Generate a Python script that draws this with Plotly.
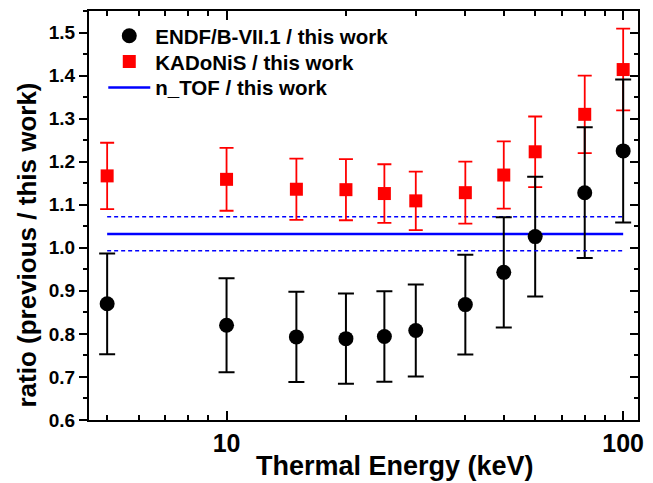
import plotly.graph_objects as go

# ---- data ----
energy_keV = [5, 10, 15, 20, 25, 30, 40, 50, 60, 80, 100]
endf_ratio = [0.870, 0.820, 0.793, 0.789, 0.794, 0.808, 0.868, 0.943, 1.026, 1.128, 1.225]
endf_err = [0.117, 0.109, 0.105, 0.105, 0.105, 0.107, 0.116, 0.128, 0.139, 0.152, 0.166]
kadonis_ratio = [1.167, 1.159, 1.136, 1.135, 1.126, 1.109, 1.128, 1.169, 1.223, 1.310, 1.414]
kadonis_err = [0.077, 0.073, 0.071, 0.071, 0.068, 0.068, 0.072, 0.078, 0.082, 0.090, 0.095]
ntof_x = [5, 100]
ntof_ratio = [1.032, 1.032]
ntof_upper = [1.072, 1.072]
ntof_lower = [0.993, 0.993]
x_major_ticks = [10, 100]
x_major_labels = ["10", "100"]
x_minor_ticks = [5, 6, 7, 8, 9, 20, 30, 40, 50, 60, 70, 80, 90]

FONT = "Arial, Liberation Sans, sans-serif"
LEG_FONT = dict(family=FONT, size=20.5, weight="bold")

fig = go.Figure()

fig.add_trace(go.Scatter(x=ntof_x, y=ntof_upper, mode="lines", showlegend=False,
                         line=dict(color="#0000ff", width=1.6, dash="4px,3px"), hoverinfo="skip"))
fig.add_trace(go.Scatter(x=ntof_x, y=ntof_lower, mode="lines", showlegend=False, yaxis="y2",
                         line=dict(color="#0000ff", width=1.6, dash="4px,3px"), hoverinfo="skip"))
fig.add_trace(go.Scatter(x=ntof_x, y=ntof_ratio, mode="lines", name="n_TOF / this work",
                         line=dict(color="#0000ff", width=2.5), legend="legend3"))
fig.add_trace(go.Scatter(x=energy_keV, y=kadonis_ratio, mode="markers", name="KADoNiS / this work",
                         marker=dict(symbol="square", size=13, color="#ff0000"),
                         error_y=dict(type="data", array=kadonis_err, color="#ff0000",
                                      thickness=1.8, width=7),
                         legend="legend2"))
fig.add_trace(go.Scatter(x=energy_keV, y=endf_ratio, mode="markers", name="ENDF/B-VII.1 / this work",
                         marker=dict(symbol="circle", size=15, color="#000000"),
                         error_y=dict(type="data", array=endf_err, color="#000000",
                                      thickness=2, width=8),
                         legend="legend"))

def leg(ypix):
    return dict(x=0.026, y=1 - (ypix - 9) / 411, xanchor="left", yanchor="middle",
                bgcolor="rgba(0,0,0,0)", borderwidth=0, font=LEG_FONT, itemwidth=42)

fig.update_layout(
    width=653, height=483,
    margin=dict(l=89, r=9, t=9, b=63),
    paper_bgcolor="white", plot_bgcolor="white",
    font=dict(family=FONT, color="black"),
    showlegend=True,
    legend=leg(34), legend2=leg(60), legend3=leg(86),
    xaxis=dict(
        type="log", range=[0.6532, 2.0374],
        showline=True, linecolor="black", linewidth=2, mirror="ticks",
        showgrid=False, zeroline=False,
        tickmode="array", tickvals=x_major_ticks, ticktext=x_major_labels,
        ticks="inside", ticklen=9, tickwidth=2, tickcolor="black",
        tickfont=dict(family=FONT, size=25, weight="bold"),
        minor=dict(tickmode="array", tickvals=x_minor_ticks, ticks="inside",
                   ticklen=5, tickwidth=2, tickcolor="black", showgrid=False),
    ),
    yaxis=dict(
        range=[0.6, 1.55],
        showline=True, linecolor="black", linewidth=2,
        showgrid=False, zeroline=False,
        tickmode="linear", tick0=0.6, dtick=0.1, tickformat=".1f",
        ticks="outside", ticklen=8, tickwidth=2, tickcolor="black",
        tickfont=dict(family=FONT, size=19, weight="bold"),
        minor=dict(dtick=0.05, ticks="outside", ticklen=4, tickwidth=2,
                   tickcolor="black", showgrid=False),
    ),
    yaxis2=dict(
        range=[0.6, 1.55], overlaying="y", side="right",
        showline=True, linecolor="black", linewidth=2,
        showgrid=False, zeroline=False, showticklabels=False,
        tickmode="linear", tick0=0.6, dtick=0.1,
        ticks="inside", ticklen=8, tickwidth=2, tickcolor="black",
        minor=dict(dtick=0.05, ticks="inside", ticklen=4, tickwidth=2,
                   tickcolor="black", showgrid=False),
    ),
    annotations=[
        dict(text="Thermal Energy (keV)", xref="paper", yref="paper",
             x=(398 - 89) / 555, y=-(466 - 420) / 411, xanchor="center", yanchor="middle",
             showarrow=False, font=dict(family=FONT, size=27, weight="bold")),
        dict(text="ratio (previous / this work)", xref="paper", yref="paper",
             x=-(89 - 26) / 555, y=1 - (244 - 9) / 411, xanchor="center", yanchor="middle",
             textangle=-90, showarrow=False, font=dict(family=FONT, size=26, weight="bold")),
    ],
)

fig.write_html("out.html")
